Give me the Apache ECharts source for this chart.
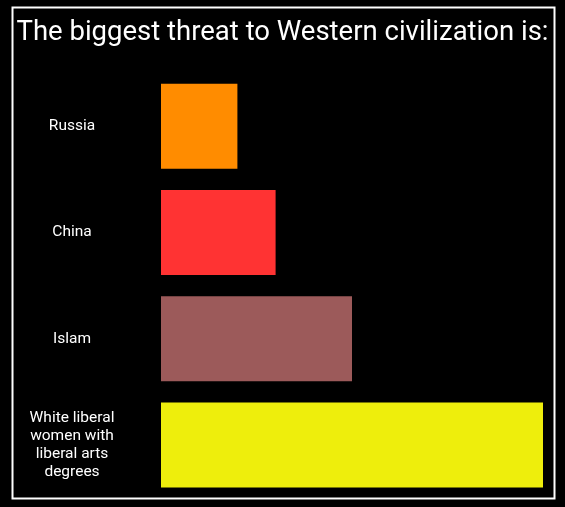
<!DOCTYPE html>
<html><head><meta charset="utf-8">
<style>html,body{margin:0;padding:0;background:#000;}#c{width:565px;height:507px;}</style>
<script src="https://cdn.jsdelivr.net/npm/echarts@6/dist/echarts.min.js"></script>
</head><body><div id="c"></div>
<script>
var titleText = 'The biggest threat to Western civilization is:';
var categories = ['Russia', 'China', 'Islam', 'White liberal\nwomen with\nliberal arts\ndegrees'];
var values = [20, 30, 50, 100];
var colors = ['#FF8C00', '#FF3333', '#9C5A5A', '#EEEE0C'];

var chart = echarts.init(document.getElementById('c'));
chart.setOption({
  backgroundColor: '#000',
  animation: false,
  title: {
    text: titleText, left: 'center', top: 14,
    textStyle: { color: '#fff', fontSize: 27.5, fontWeight: 'normal', fontFamily: 'Roboto' }
  },
  graphic: [{
    type: 'rect', shape: { x: 12.5, y: 7.5, width: 542, height: 491 },
    style: { fill: 'none', stroke: '#fff', lineWidth: 2 }, z: 100
  }],
  grid: { left: 161, right: 22, top: 73, bottom: 9 },
  xAxis: { type: 'value', min: 0, max: 100, show: false },
  yAxis: {
    type: 'category', data: categories, inverse: true,
    axisLine: { show: false }, axisTick: { show: false },
    axisLabel: { color: '#fff', fontSize: 15.5, fontFamily: 'Roboto', align: 'center', margin: 89, lineHeight: 18 }
  },
  series: [{
    type: 'bar', barCategoryGap: '20%',
    data: values.map(function (v, i) { return { value: v, itemStyle: { color: colors[i] } }; })
  }]
});
</script></body></html>
